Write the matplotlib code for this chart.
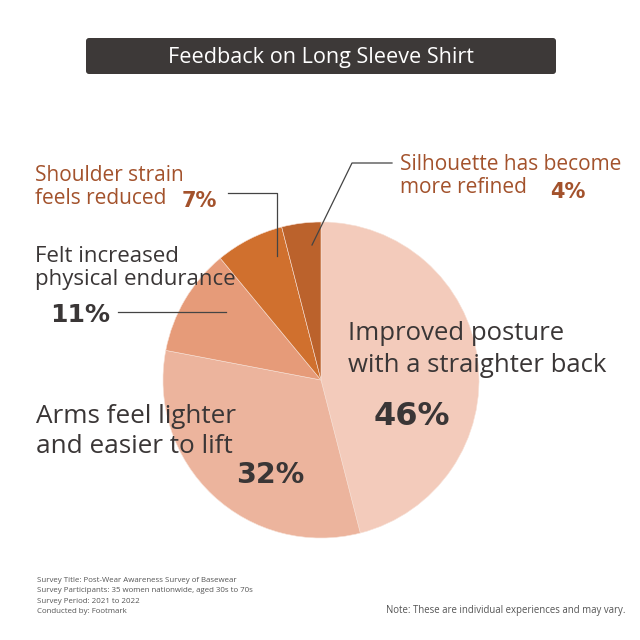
import matplotlib
matplotlib.use("Agg")
import matplotlib.pyplot as plt
from matplotlib.patches import FancyBboxPatch

plt.rcParams['font.family'] = ['Open Sans', 'Noto Sans', 'DejaVu Sans']

# Survey results
categories = [
    "Improved posture\nwith a straighter back",
    "Arms feel lighter\nand easier to lift",
    "Felt increased\nphysical endurance",
    "Shoulder strain\nfeels reduced",
    "Silhouette has become\nmore refined",
]
values = [46, 32, 11, 7, 4]
slice_colors = ["#f3cbbb", "#ecb49d", "#e69b79", "#d0702e", "#bb622c"]
pct_labels = [f"{v}%" for v in values]

title = "Feedback on Long Sleeve Shirt"
footer_lines = [
    "Survey Title: Post-Wear Awareness Survey of Basewear",
    "Survey Participants: 35 women nationwide, aged 30s to 70s",
    "Survey Period: 2021 to 2022",
    "Conducted by: Footmark",
]
note = "Note: These are individual experiences and may vary."

DARK = "#3a3636"
BROWN = "#a3522c"
W = H = 640

fig = plt.figure(figsize=(6.4, 6.4), dpi=100)
ax = fig.add_axes([0, 0, 1, 1])


def Y(y):
    # pixel row (from top) to data y
    return H - y


# Title bar
ax.add_patch(FancyBboxPatch((86, Y(74)), 470, 36,
                            boxstyle="round,pad=0,rounding_size=3",
                            fc="#3d3938", ec="none"))
ax.text(321, Y(57), title, color="white", fontsize=15.6, ha="center", va="center")

# Pie
ax.pie(values, colors=slice_colors, startangle=90, counterclock=False,
       center=(321, Y(380)), radius=158, frame=True,
       wedgeprops=dict(edgecolor="#f7e0d5", linewidth=0.4))
ax.set_xlim(0, W)
ax.set_ylim(0, H)
ax.set_aspect("equal")
ax.axis("off")

lw = 0.9
lc = "#444444"
BOLD = ['DejaVu Sans']

# 46%
ax.text(348, Y(340), categories[0].split("\n")[0], color=DARK, fontsize=18.5, va="baseline")
ax.text(348, Y(372), categories[0].split("\n")[1], color=DARK, fontsize=18.5, va="baseline")
ax.text(412, Y(425), pct_labels[0], color=DARK, fontsize=23, fontweight="bold",
        family=BOLD, ha="center", va="baseline")

# 32%
ax.text(36, Y(423), categories[1].split("\n")[0], color=DARK, fontsize=18.8, va="baseline")
ax.text(36, Y(453), categories[1].split("\n")[1], color=DARK, fontsize=18.8, va="baseline")
ax.text(270, Y(483), pct_labels[1], color=DARK, fontsize=20.5, fontweight="bold",
        family=BOLD, ha="center", va="baseline")

# 11%
ax.text(35, Y(262), categories[2].split("\n")[0], color=DARK, fontsize=16, va="baseline")
ax.text(35, Y(285), categories[2].split("\n")[1], color=DARK, fontsize=16, va="baseline")
ax.text(50, Y(322), pct_labels[2], color=DARK, fontsize=18, fontweight="bold",
        family=BOLD, ha="left", va="baseline")
ax.plot([118, 226], [Y(312), Y(312)], color=lc, lw=lw)

# 7%
ax.text(35, Y(181), categories[3].split("\n")[0], color=BROWN, fontsize=15, va="baseline")
ax.text(35, Y(204), categories[3].split("\n")[1], color=BROWN, fontsize=15, va="baseline")
ax.text(182, Y(207), pct_labels[3], color=BROWN, fontsize=15, fontweight="bold",
        family=BOLD, ha="left", va="baseline")
ax.plot([228, 277, 277], [Y(193), Y(193), Y(256)], color=lc, lw=lw)

# 4%
ax.text(400, Y(170), categories[4].split("\n")[0], color=BROWN, fontsize=15, va="baseline")
ax.text(400, Y(193), categories[4].split("\n")[1], color=BROWN, fontsize=15, va="baseline")
ax.text(550, Y(198), pct_labels[4], color=BROWN, fontsize=15, fontweight="bold",
        family=BOLD, ha="left", va="baseline")
ax.plot([392, 352, 312], [Y(163), Y(163), Y(245)], color=lc, lw=lw)

# Footer
for i, line in enumerate(footer_lines):
    ax.text(37, Y(582 + 10.3 * i), line, color="#555555", fontsize=5.7,
            va="baseline")
ax.text(625, Y(613), note, color="#555555", fontsize=6.9, ha="right", va="baseline")

fig.savefig("out.png", dpi=100, facecolor="white")
